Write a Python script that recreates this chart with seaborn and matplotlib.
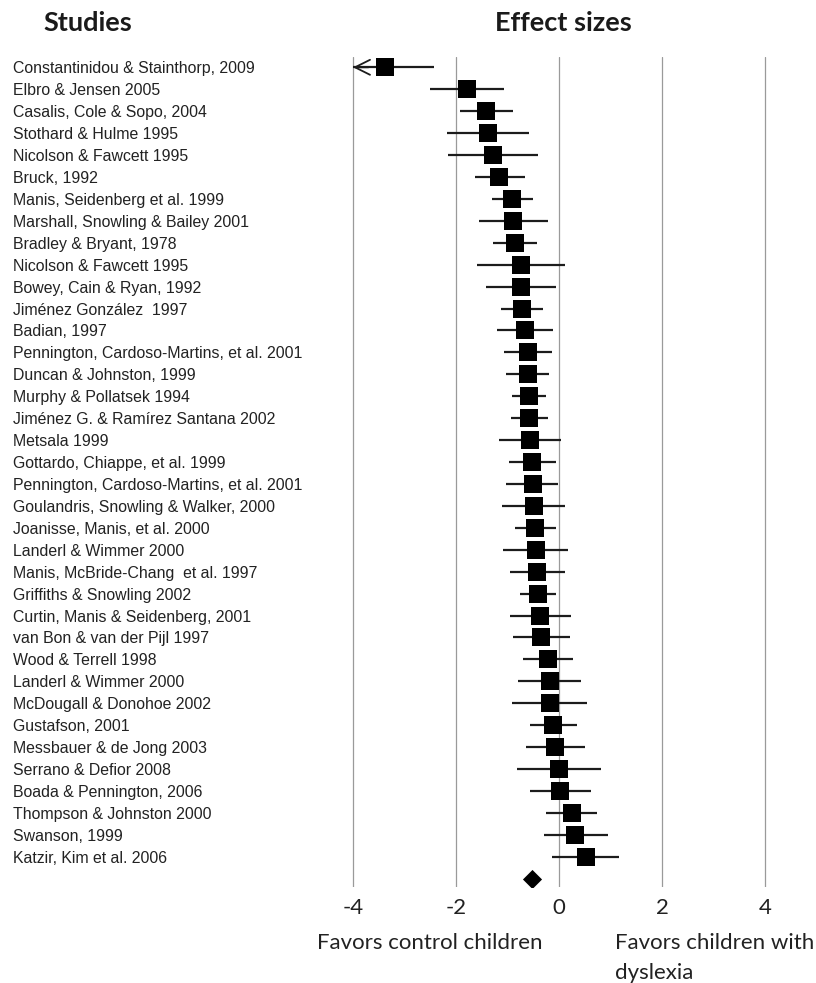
import matplotlib
matplotlib.use("Agg")
import matplotlib.pyplot as plt
import seaborn as sns
import pandas as pd
import numpy as np

studies = [
    "Constantinidou & Stainthorp, 2009",
    "Elbro & Jensen 2005",
    "Casalis, Cole & Sopo, 2004",
    "Stothard & Hulme 1995",
    "Nicolson & Fawcett 1995",
    "Bruck, 1992",
    "Manis, Seidenberg et al. 1999",
    "Marshall, Snowling & Bailey 2001",
    "Bradley & Bryant, 1978",
    "Nicolson & Fawcett 1995",
    "Bowey, Cain & Ryan, 1992",
    "Jiménez González  1997",
    "Badian, 1997",
    "Pennington, Cardoso-Martins, et al. 2001",
    "Duncan & Johnston, 1999",
    "Murphy & Pollatsek 1994",
    "Jiménez G. & Ramírez Santana 2002",
    "Metsala 1999",
    "Gottardo, Chiappe, et al. 1999",
    "Pennington, Cardoso-Martins, et al. 2001",
    "Goulandris, Snowling & Walker, 2000",
    "Joanisse, Manis, et al. 2000",
    "Landerl & Wimmer 2000",
    "Manis, McBride-Chang  et al. 1997",
    "Griffiths & Snowling 2002",
    "Curtin, Manis & Seidenberg, 2001",
    "van Bon & van der Pijl 1997",
    "Wood & Terrell 1998",
    "Landerl & Wimmer 2000",
    "McDougall & Donohoe 2002",
    "Gustafson, 2001",
    "Messbauer & de Jong 2003",
    "Serrano & Defior 2008",
    "Boada & Pennington, 2006",
    "Thompson & Johnston 2000",
    "Swanson, 1999",
    "Katzir, Kim et al. 2006",
]

effect = [-3.37, -1.78, -1.42, -1.38, -1.29, -1.16, -0.91, -0.89, -0.86, -0.74,
          -0.74, -0.72, -0.66, -0.61, -0.61, -0.58, -0.58, -0.57, -0.52, -0.51,
          -0.49, -0.47, -0.45, -0.43, -0.41, -0.37, -0.34, -0.22, -0.18, -0.18,
          -0.12, -0.08, 0.00, 0.02, 0.25, 0.32, 0.52]
ci_lower = [-4.31, -2.50, -1.92, -2.17, -2.15, -1.64, -1.31, -1.55, -1.29, -1.60,
            -1.42, -1.13, -1.20, -1.07, -1.03, -0.91, -0.94, -1.17, -0.97, -1.02,
            -1.11, -0.85, -1.09, -0.96, -0.75, -0.96, -0.89, -0.70, -0.80, -0.91,
            -0.56, -0.65, -0.82, -0.56, -0.25, -0.30, -0.13]
ci_upper = [-2.43, -1.06, -0.89, -0.59, -0.40, -0.66, -0.51, -0.21, -0.42, 0.12,
            -0.06, -0.31, -0.12, -0.14, -0.19, -0.26, -0.21, 0.04, -0.06, -0.01,
            0.12, -0.06, 0.17, 0.11, -0.06, 0.24, 0.21, 0.27, 0.43, 0.55,
            0.34, 0.50, 0.82, 0.62, 0.74, 0.95, 1.17]
pooled_effect = -0.53

x_ticks = [-4, -2, 0, 2, 4]
ci_min, ci_max = -4, 4          # intervals are cut (with an arrow) beyond these
x_lim = (-4.2, 4.2)

df = pd.DataFrame({"study": studies, "effect": effect,
                   "lower": ci_lower, "upper": ci_upper})
df["row"] = np.arange(len(df))
pooled_row = len(df)

sns.set_theme(style="white")
plt.rcParams["font.family"] = ["Liberation Sans", "DejaVu Sans"]

W, H = 816, 983
fig = plt.figure(figsize=(W / 100, H / 100), dpi=100)

def px_x(x):
    return x / W

def px_y(y):
    return 1 - y / H

# data area in pixels: zero at 559 px, 51.5 px per unit
zero_px, unit_px = 559, 51.5
ax_left = zero_px + x_lim[0] * unit_px
ax_right = zero_px + x_lim[1] * unit_px
ax_top, ax_bottom = 57, 887
ax = fig.add_axes([px_x(ax_left), px_y(ax_bottom),
                   (ax_right - ax_left) / W, (ax_bottom - ax_top) / H])

for _, r in df.iterrows():
    lo = max(r["lower"], ci_min)
    hi = min(r["upper"], ci_max)
    ax.hlines(r["row"], lo, hi, color="#1c1c1c", lw=1.6, zorder=2)
    if r["lower"] < ci_min:
        ax.annotate("", xy=(ci_min, r["row"]), xytext=(ci_min + 0.3, r["row"]),
                    arrowprops=dict(arrowstyle="->,head_length=0.9,head_width=0.45",
                                    color="#1c1c1c", lw=1.3, shrinkA=0, shrinkB=0),
                    annotation_clip=False, zorder=3)

sns.scatterplot(data=df, x="effect", y="row", marker="s", s=165, color="black",
                linewidth=0, ax=ax, zorder=4, legend=False)
sns.scatterplot(x=[pooled_effect], y=[pooled_row], marker="D", s=95,
                color="black", linewidth=0, ax=ax, zorder=4, legend=False)

ax.set_xlim(*x_lim)
row_px0, row_step = 67.3, 21.93
ax.set_ylim((ax_bottom - row_px0) / row_step, (ax_top - row_px0) / row_step)

ax.set_xticks(x_ticks)
ax.set_xticklabels([str(t) for t in x_ticks], family=["Lato", "DejaVu Sans"],
                   fontsize=16, color="#222222")
ax.tick_params(axis="x", length=0, pad=8)
ax.set_yticks(df["row"])
ax.set_yticklabels(df["study"], fontsize=11.4, color="#222222")
ax.tick_params(axis="y", length=0, pad=(ax_left - 13) * 0.72)
for lbl in ax.get_yticklabels():
    lbl.set_horizontalalignment("left")

ax.grid(axis="x", color="#9a9a9a", lw=0.9)
ax.grid(axis="y", visible=False)
for s in ax.spines.values():
    s.set_visible(False)
ax.set_xlabel("")
ax.set_ylabel("")

title_font = dict(family=["Lato", "DejaVu Sans"], fontweight="bold",
                  fontsize=19.5, color="#1a1a1a", va="center")
fig.text(px_x(43), px_y(23), "Studies", ha="left", **title_font)
fig.text(px_x(495), px_y(23), "Effect sizes", ha="left", **title_font)

note_font = dict(family=["Lato", "DejaVu Sans"], fontsize=16, color="#222222",
                 va="center")
fig.text(px_x(430), px_y(943), "Favors control children", ha="center", **note_font)
fig.text(px_x(615), px_y(943), "Favors children with", ha="left", **note_font)
fig.text(px_x(615), px_y(973), "dyslexia", ha="left", **note_font)

fig.savefig("out.png", dpi=100)
